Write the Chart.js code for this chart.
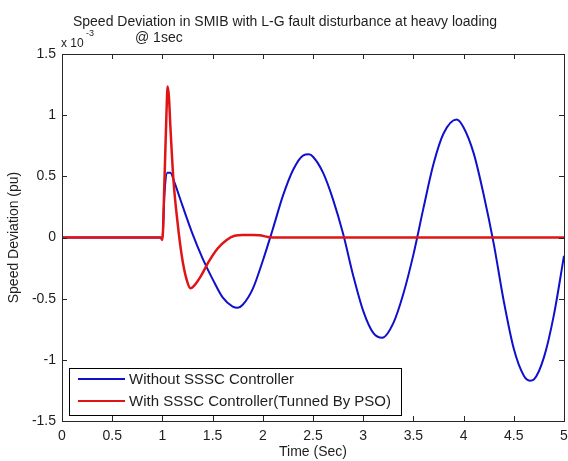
<!DOCTYPE html>
<html>
<head>
<meta charset="utf-8">
<script src="https://cdn.jsdelivr.net/npm/chart.js@4.4.0/dist/chart.umd.min.js"></script>
<style>
html, body { margin: 0; padding: 0; background: #fff; }
</style>
</head>
<body>
<canvas id="g_speed" width="568" height="461"></canvas>
<script>
// values (speed deviation in units of 1e-3 pu)
const timeWithout = [0, 0.5, 0.98, 1.0, 1.02, 1.05, 1.08, 1.12, 1.2, 1.3, 1.4, 1.5, 1.6, 1.7, 1.75, 1.8, 1.9, 2.0, 2.1,
    2.2, 2.3, 2.4, 2.46, 2.5, 2.6, 2.7, 2.8, 2.9, 3.0, 3.1, 3.19, 3.3, 3.4, 3.5, 3.6, 3.7, 3.8, 3.93, 4.0, 4.1, 4.2,
    4.3, 4.4, 4.5, 4.6, 4.66, 4.7, 4.8, 4.9, 5.0];
const devWithout = [0, 0, 0, -0.01, 0.35, 0.53, 0.53, 0.45, 0.26, 0.03, -0.17, -0.34, -0.49, -0.565, -0.575, -0.55, -0.42, -0.19, 0.07,
    0.34, 0.55, 0.67, 0.68, 0.66, 0.53, 0.31, 0.03, -0.31, -0.60, -0.78, -0.82, -0.70, -0.46, -0.14, 0.24, 0.60, 0.85, 0.965, 0.90, 0.69, 0.35,
    -0.05, -0.52, -0.91, -1.13, -1.17, -1.16, -0.98, -0.63, -0.15];

const timeWith = [0, 0.5, 0.98, 1.0, 1.02, 1.04, 1.052, 1.065, 1.08, 1.11, 1.15, 1.195, 1.24, 1.28, 1.32, 1.38, 1.46,
    1.55, 1.64, 1.72, 1.8, 1.9, 1.97, 2.05, 2.15, 3.0, 4.0, 5.0];
const devWith = [0, 0, 0, -0.02, 0.45, 1.0, 1.235, 1.15, 0.9, 0.47, 0.13, -0.16, -0.34, -0.415, -0.39, -0.32, -0.2,
    -0.09, -0.02, 0.015, 0.02, 0.02, 0.018, 0.005, 0, 0, 0, 0];

const seriesNames = ["Without SSSC Controller", "With SSSC Controller(Tunned By PSO)"];
const seriesColors = ['#1010cc', '#e01414'];
const titleLines = ["Speed Deviation in SMIB with L-G fault disturbance at heavy loading", "@ 1sec"];

const fontFamily = '"Liberation Sans", Arial, sans-serif';
const textColor = '#1e1e1e';

function pairs(xs, ys) {
    return xs.map(function(t, i) {
        return {x: t, y: ys[i]};
    });
}

// box, inward ticks, legend and title the matlab way
const matlabLook = {
    id: 'matlabLook',
    afterDatasetsDraw(chart) {
        const ctx = chart.ctx;
        const a = chart.chartArea;
        const sx = chart.scales.x;
        const sy = chart.scales.y;
        ctx.save();
        ctx.strokeStyle = '#262626';
        ctx.lineWidth = 1;
        ctx.beginPath();
        sx.ticks.forEach(function(t) {
            const px = Math.round(sx.getPixelForValue(t.value)) + 0.5;
            ctx.moveTo(px, a.bottom); ctx.lineTo(px, a.bottom - 5);
            ctx.moveTo(px, a.top); ctx.lineTo(px, a.top + 5);
        });
        sy.ticks.forEach(function(t) {
            const py = Math.round(sy.getPixelForValue(t.value)) + 0.5;
            ctx.moveTo(a.left, py); ctx.lineTo(a.left + 5, py);
            ctx.moveTo(a.right, py); ctx.lineTo(a.right - 5, py);
        });
        ctx.stroke();
        ctx.strokeRect(Math.round(a.left) + 0.5, Math.round(a.top) + 0.5,
            Math.round(a.right - a.left), Math.round(a.bottom - a.top));

        // legend
        const lx = 69, ly = 368, lw = 332, lh = 47;
        ctx.fillStyle = '#fff';
        ctx.fillRect(lx, ly, lw, lh);
        ctx.strokeStyle = '#000';
        ctx.strokeRect(lx + 0.5, ly + 0.5, lw, lh);
        ctx.font = '15px ' + fontFamily;
        ctx.textBaseline = 'middle';
        ctx.textAlign = 'left';
        seriesNames.forEach(function(name, i) {
            const yy = ly + 11 + i * 22;
            ctx.strokeStyle = seriesColors[i];
            ctx.lineWidth = 2;
            ctx.beginPath();
            ctx.moveTo(78, yy); ctx.lineTo(125, yy);
            ctx.stroke();
            ctx.fillStyle = textColor;
            ctx.fillText(name, 129, yy + 1);
        });

        // title and exponent
        ctx.fillStyle = textColor;
        ctx.font = '14px ' + fontFamily;
        ctx.textAlign = 'center';
        ctx.fillText(titleLines[0], 285, 22);
        ctx.textAlign = 'left';
        ctx.fillText(titleLines[1], 135, 38);
        ctx.font = '12px ' + fontFamily;
        ctx.fillText('x 10', 61, 44);
        ctx.font = '9px ' + fontFamily;
        ctx.fillText('-3', 86, 34);
        ctx.restore();
    }
};

function plainNumber(v) {
    return String(Math.round(v * 10) / 10);
}

window.addEventListener('load', () => {
    const ctx = document.getElementById("g_speed").getContext("2d");
    const conData = {
        datasets: [{
            label: seriesNames[1],
            data: pairs(timeWith, devWith),
            borderColor: seriesColors[1],
            borderWidth: 2.5,
            pointRadius: 0,
            cubicInterpolationMode: 'monotone'
        }, {
            label: seriesNames[0],
            data: pairs(timeWithout, devWithout),
            borderColor: seriesColors[0],
            borderWidth: 2,
            pointRadius: 0,
            cubicInterpolationMode: 'monotone'
        }]
    };
    const options = {
        responsive: false,
        animation: false,
        layout: {padding: {top: 54, right: 4, left: 0, bottom: 0}},
        plugins: {
            legend: {display: false},
            tooltip: {enabled: false}
        },
        scales: {
            x: {
                type: 'linear',
                min: 0,
                max: 5,
                grid: {display: false, drawTicks: false},
                border: {display: false},
                ticks: {stepSize: 0.5, padding: 7, color: textColor, font: {family: fontFamily, size: 14}, maxRotation: 0, callback: plainNumber},
                title: {display: true, text: 'Time (Sec)', color: textColor, font: {family: fontFamily, size: 14}, padding: {top: 0, bottom: 0}},
                afterFit: function(scale) {
                    scale.height = 40;
                    scale.paddingLeft = 0;
                    scale.paddingRight = 4;
                }
            },
            y: {
                min: -1.5,
                max: 1.5,
                grid: {display: false, drawTicks: false},
                border: {display: false},
                ticks: {stepSize: 0.5, padding: 6, color: textColor, font: {family: fontFamily, size: 14}, callback: plainNumber},
                title: {display: true, text: 'Speed Deviation (pu)', color: textColor, font: {family: fontFamily, size: 14}, padding: {top: 6, bottom: 0}},
                afterFit: function(scale) { scale.width = 62; }
            }
        }
    };
    new Chart(ctx, {type: 'line', data: conData, options: options, plugins: [matlabLook]});
});
</script>
</body>
</html>
